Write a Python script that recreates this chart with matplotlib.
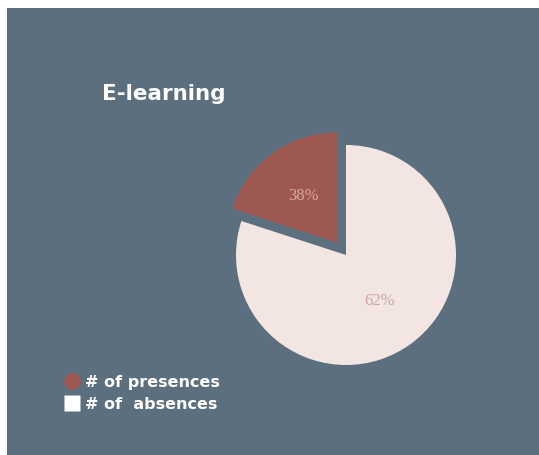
import matplotlib.pyplot as plt
from matplotlib.patches import Rectangle
from matplotlib.lines import Line2D

# data (wedge shares as drawn, labels as printed)
categories = ["# of presences", "# of  absences"]
shares = [20, 80]
pct_labels = ["38%", "62%"]
colors = ["#9d5852", "#f3e6e2"]
label_colors = ["#dba79f", "#c9a79f"]
title = "E-learning"

bg = "#5c6f7e"
W, H = 539, 455

fig = plt.figure(figsize=(W / 100, H / 100), dpi=100)
fig.patch.set_facecolor("white")
fig.patches.append(Rectangle((7 / W, 0), 532 / W, 447 / H, transform=fig.transFigure,
                             facecolor=bg, edgecolor="none", zorder=-5))

# pie: radius 110 px, centre at (346, 255) from top-left
r = 110
side = 2.4 * r
cx, cy = 346, H - 255
ax = fig.add_axes([(cx - side / 2) / W, (cy - side / 2) / H, side / W, side / H])
ax.set_zorder(2)

wedges, texts = ax.pie(shares, colors=colors, startangle=90, counterclock=True,
                       explode=[0.14, 0], labels=pct_labels, labeldistance=0.52,
                       wedgeprops=dict(linewidth=0))
ax.set_xlim(-1.2, 1.2)
ax.set_ylim(-1.2, 1.2)
ax.set_aspect("equal")
ax.axis("off")

for t, c in zip(texts, label_colors):
    t.set_color(c)
    t.set_fontfamily("Liberation Serif")
    t.set_fontsize(12)
    t.set_ha("center")
    t.set_va("center")

fig.text(102 / W, 1 - 94 / H, title, color="white", fontsize=15.5,
         fontweight="bold", ha="left", va="center", zorder=3)

handles = [
    Line2D([], [], marker="o", linestyle="none", markersize=12,
           markerfacecolor=colors[0], markeredgecolor="none"),
    Line2D([], [], marker="s", linestyle="none", markersize=12,
           markerfacecolor="white", markeredgecolor="none"),
]
leg = fig.legend(handles, categories, loc="upper left",
                 bbox_to_anchor=(64 / W, 1 - 375 / H), frameon=False,
                 handlelength=1.0, handletextpad=0.3, labelspacing=0.42,
                 borderaxespad=0, borderpad=0,
                 prop=dict(weight="bold", size=11.5))
leg.set_zorder(3)
for t in leg.get_texts():
    t.set_color("white")

fig.savefig("out.png", dpi=100)
